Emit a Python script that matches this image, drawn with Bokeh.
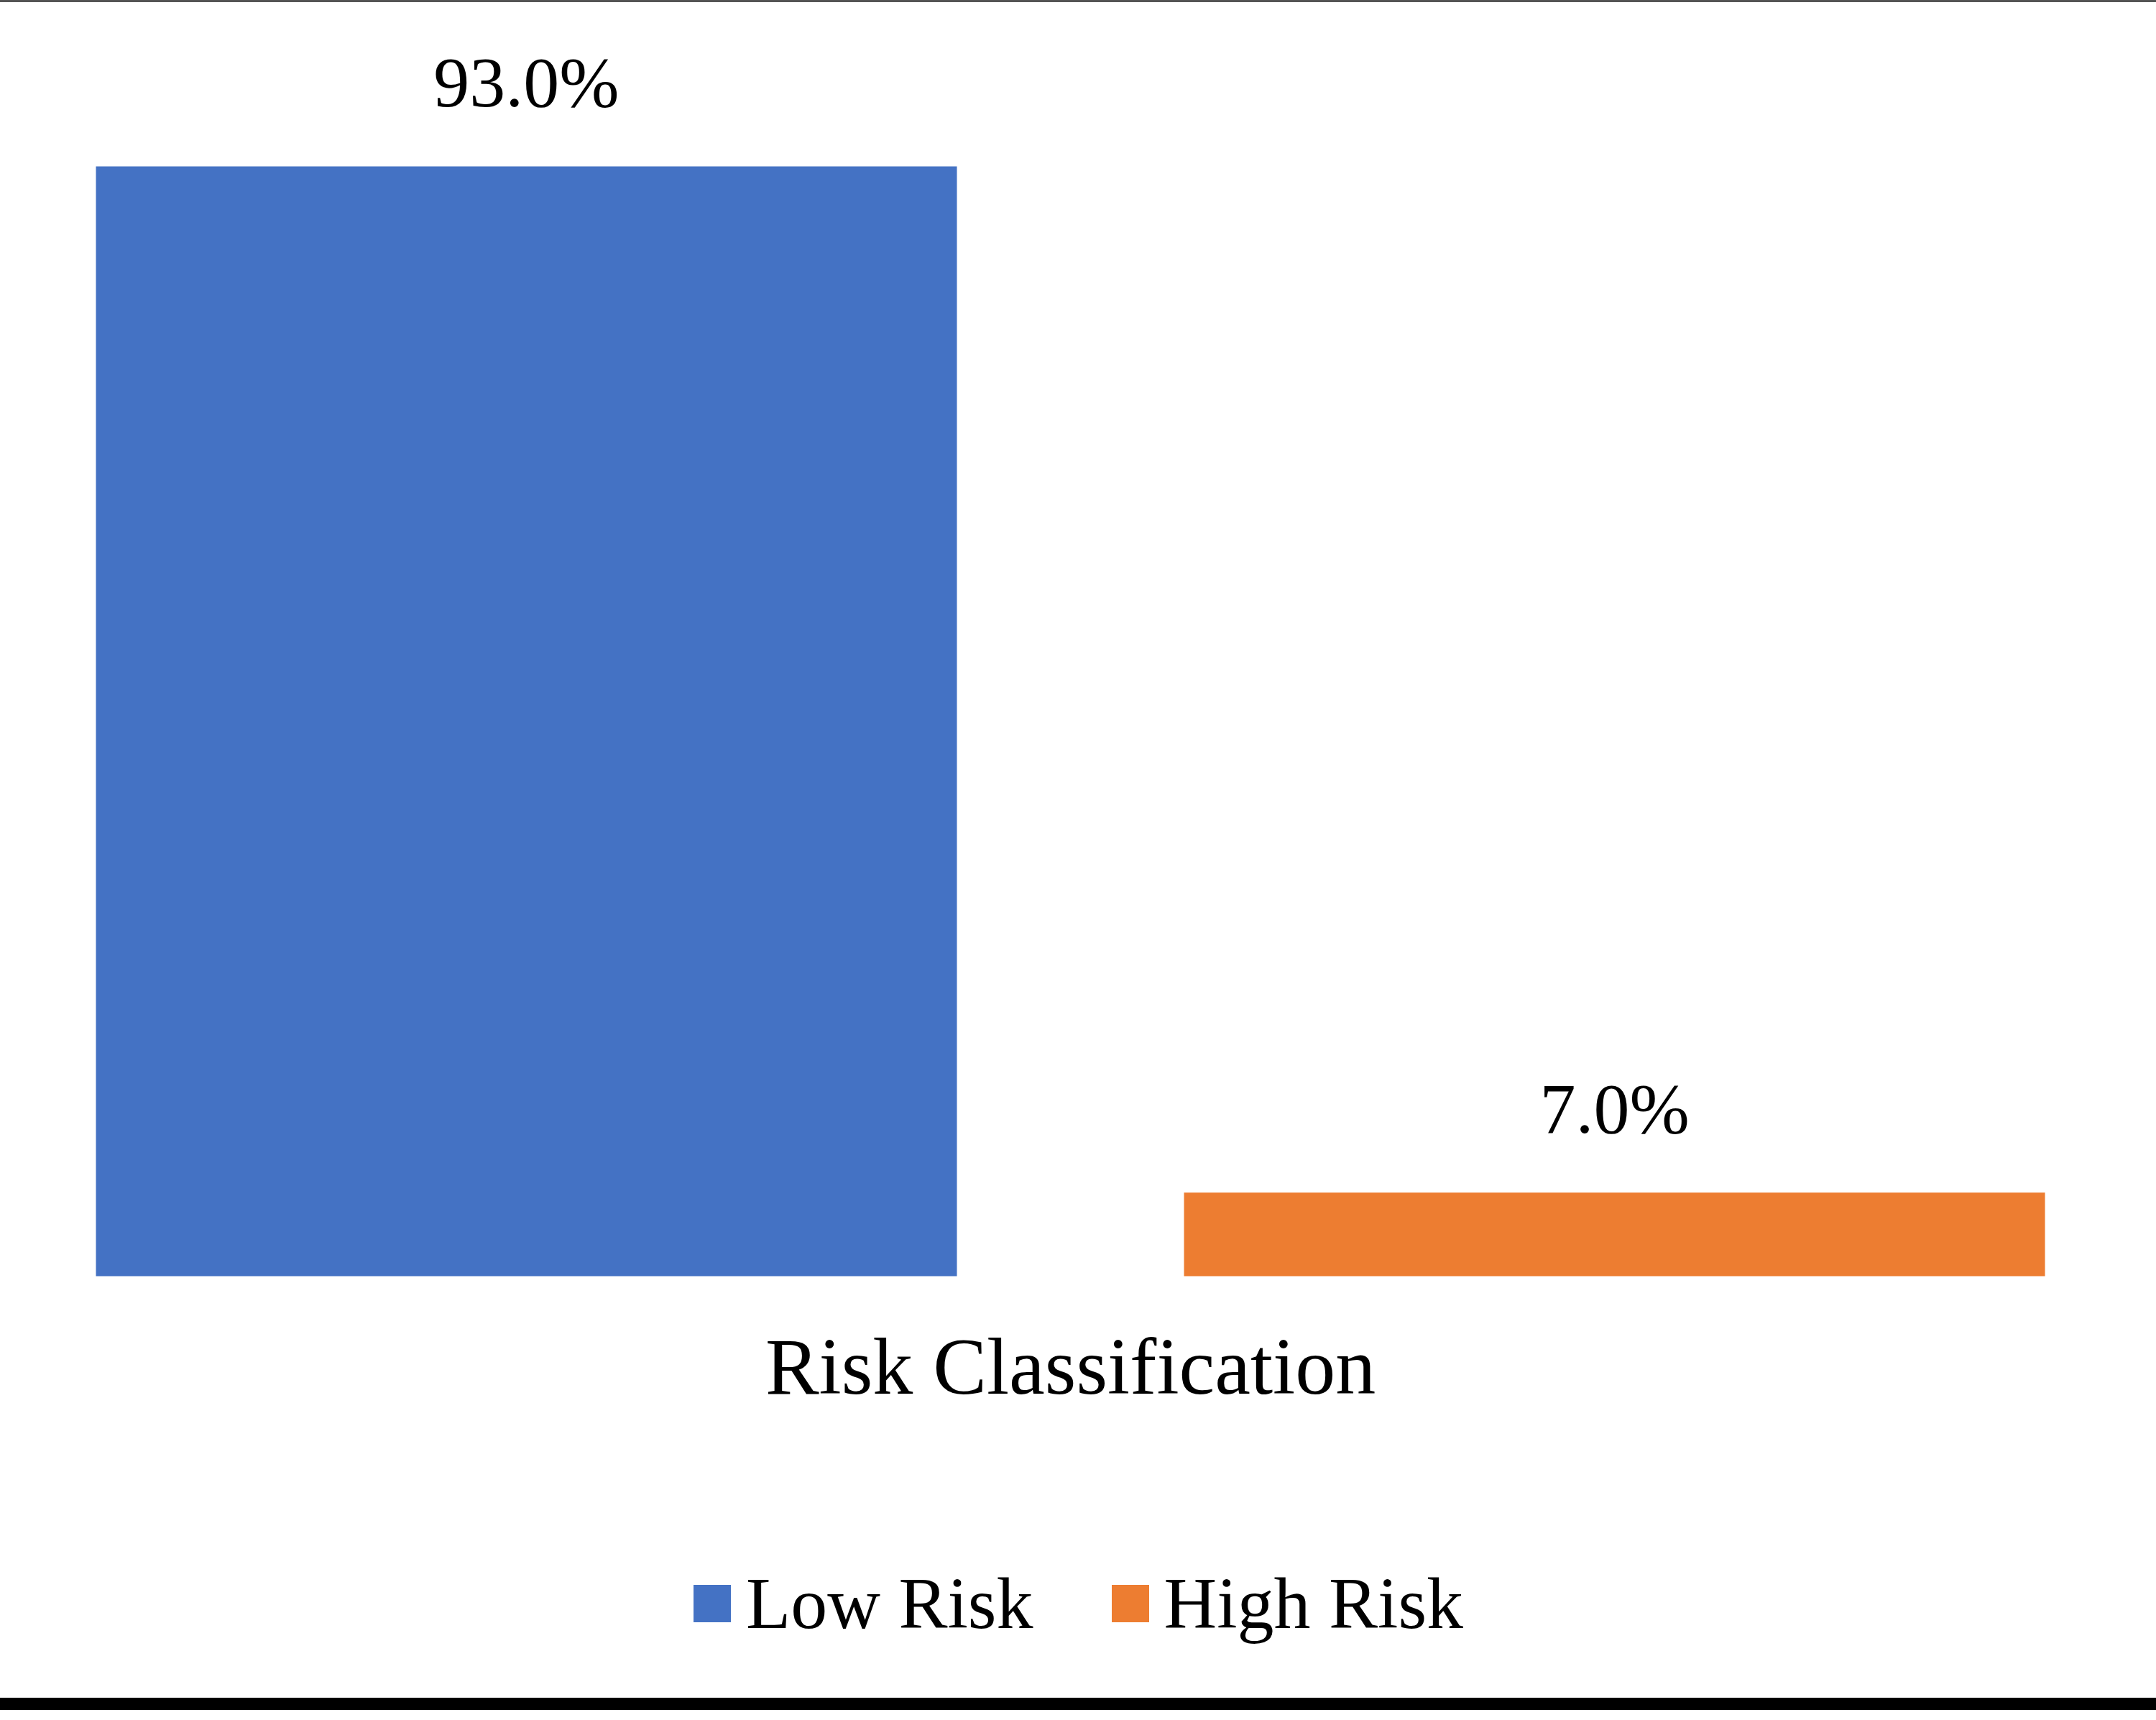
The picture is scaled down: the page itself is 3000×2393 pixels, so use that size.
from bokeh.plotting import figure
from bokeh.models import ColumnDataSource, Range1d, LabelSet, Label, Legend, LegendItem, Div
from bokeh.layouts import column
from bokeh.embed import file_html
from bokeh.resources import INLINE
from bokeh.core.properties import value

# ---- data ----
categories = ["Low Risk", "High Risk"]
percentages = [93.0, 7.0]
colors = ["#4472C4", "#ED7D31"]
axis_title = "Risk Classification"

positions = list(range(len(categories)))
labels = [f"{v:.1f}%" for v in percentages]
source = ColumnDataSource(dict(x=positions, y=percentages, label=labels,
                               color=colors, cat=categories))

W = 3000
H = 2359
FONT = "Liberation Serif"

p = figure(width=W, height=H, output_backend="svg", toolbar_location=None,
           x_range=Range1d(-0.4835, 1.4980), y_range=Range1d(-35.36, 106.73),
           x_axis_type=None, y_axis_type=None,
           min_border_left=0, min_border_right=0, min_border_top=0,
           min_border_bottom=0)
p.outline_line_color = None
p.background_fill_color = "white"
p.border_fill_color = "white"

r = p.vbar(x='x', top='y', width=0.7913, bottom=0, fill_color='color',
           line_color=None, source=source)

labelset = LabelSet(x='x', y='y', text='label', source=source, y_offset=83,
                    text_align='center', text_baseline='alphabetic',
                    text_font=value(FONT), text_font_size="100px",
                    text_color="black")
p.add_layout(labelset)

title = Label(x=sum(positions) / len(positions), y=462, x_units="data",
              y_units="screen", text=axis_title, text_align="center",
              text_baseline="alphabetic", text_font=FONT,
              text_font_size="112px", text_color="black")
p.add_layout(title)

legend = Legend(items=[LegendItem(label=categories[i], renderers=[r], index=i)
                       for i in positions],
                orientation="horizontal", location=(958, 73),
                glyph_width=65, glyph_height=65, label_standoff=15,
                spacing=102, padding=0, margin=0,
                label_text_font=FONT, label_text_font_size="102px",
                label_text_color="black",
                border_line_color=None, background_fill_alpha=0)
p.add_layout(legend)

top_line = Div(text="", width=W, height=3, margin=(0, 0, 0, 0),
               styles={"background-color": "#555555"})
bottom_line = Div(text="", width=W, height=17, margin=(0, 0, 0, 0),
                  styles={"background-color": "black"})

layout = column(top_line, p, bottom_line, spacing=0)
open("out.html", "w").write(file_html(layout, INLINE))
